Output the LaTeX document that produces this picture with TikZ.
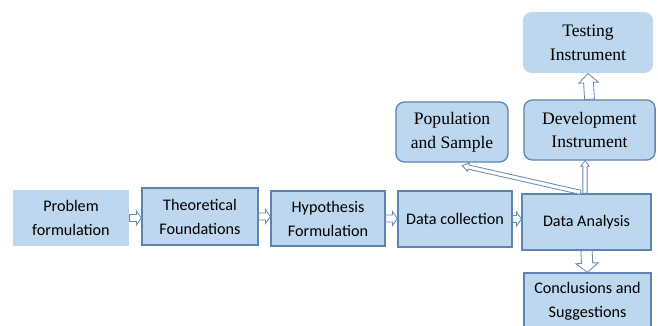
\documentclass[tikz,border=0pt]{standalone}
\usepackage{fontspec}
\setsansfont{Carlito}
\newfontfamily\seriffont{Liberation Serif}
\usetikzlibrary{calc}

\definecolor{boxfill}{RGB}{189,215,238}
\definecolor{boxline}{RGB}{96,132,178}
\definecolor{arrline}{RGB}{104,138,182}

% hollow block arrow: from, to, shaft half width, head half width, head length
\newcommand{\blockarrow}[5]{%
  \path ($(#2)!#5!(#1)$) coordinate (arrhead);
  \draw[flowarr] ($(#1)!#3!90:(#2)$) -- ($(arrhead)!#3!90:(#2)$)
    -- ($(arrhead)!#4!90:(#2)$) -- (#2) -- ($(arrhead)!#4!-90:(#2)$)
    -- ($(arrhead)!#3!-90:(#2)$) -- ($(#1)!#3!-90:(#2)$) -- cycle;
}

\begin{document}
\begin{tikzpicture}[x=0.025cm,y=-0.025cm,
    stage/.style={fill=boxfill, draw=boxline, line width=0.9pt, align=center,
      inner sep=0pt, font=\sffamily\fontsize{11.5}{17}\selectfont},
    roundstage/.style={stage, rounded corners=6pt,
      font=\seriffont\fontsize{12.5}{17}\selectfont},
    flowarr/.style={draw=arrline, fill=white, line width=0.6pt, line join=miter}]

    \clip (0,0) rectangle (658,326);
    \fill[white] (0,0) rectangle (658,326);

    % main row
    \node[stage, draw=none, minimum width=2.9cm, minimum height=1.4cm] (pf) at (71,218) {Problem\\formulation};
    \node[stage, minimum width=2.9cm, minimum height=1.42cm] (tf) at (200,216.5) {Theoretical\\Foundations};
    \node[stage, minimum width=2.85cm, minimum height=1.38cm] (hf) at (328,218.5) {Hypothesis\\Formulation};
    \node[stage, minimum width=2.85cm, minimum height=1.4cm] (dc) at (455,219) {Data collection};
    \node[stage, minimum width=3.22cm, minimum height=1.4cm] (da) at (586.5,222) {Data Analysis};
    \node[stage, minimum width=3.18cm, minimum height=1.4cm] (cs) at (587.5,301) {Conclusions and\\Suggestions};

    % upper boxes
    \node[roundstage, minimum width=3.28cm, minimum height=1.5cm] (di) at (589.5,130) {Development\\Instrument};
    \node[roundstage, draw=none, minimum width=3.25cm, minimum height=1.52cm] (ti) at (588,42.5) {Testing\\Instrument};
    \node[roundstage, minimum width=2.8cm, minimum height=1.5cm] (ps) at (452,132) {Population\\and Sample};

    % arrows along the row
    \blockarrow{pf.east}{tf.west |- pf.east}{2.5pt}{5pt}{3.5pt}
    \blockarrow{tf.east}{hf.west |- tf.east}{2.5pt}{5pt}{3.5pt}
    \blockarrow{hf.east}{dc.west |- hf.east}{2.5pt}{5pt}{3.5pt}
    \blockarrow{dc.east}{da.west |- dc.east}{2.5pt}{5pt}{3.5pt}
    \blockarrow{da.south}{cs.north}{4pt}{8pt}{6.5pt}
    \blockarrow{di.north}{ti.south}{3.5pt}{7pt}{6.5pt}

    % arrows from Data Analysis
    \coordinate (daup) at ($(da.north)+(-1.5,0)$);
    \coordinate (daleft) at ($(da.north)+(-6,-1)$);
    \coordinate (pstip) at ($(ps.south)!0.18!(ps.south east)+(0,3)$);
    \blockarrow{daup}{di.south -| daup}{1.5pt}{3pt}{4pt}
    \blockarrow{daleft}{pstip}{1.5pt}{3pt}{4.5pt}

\end{tikzpicture}
\end{document}
